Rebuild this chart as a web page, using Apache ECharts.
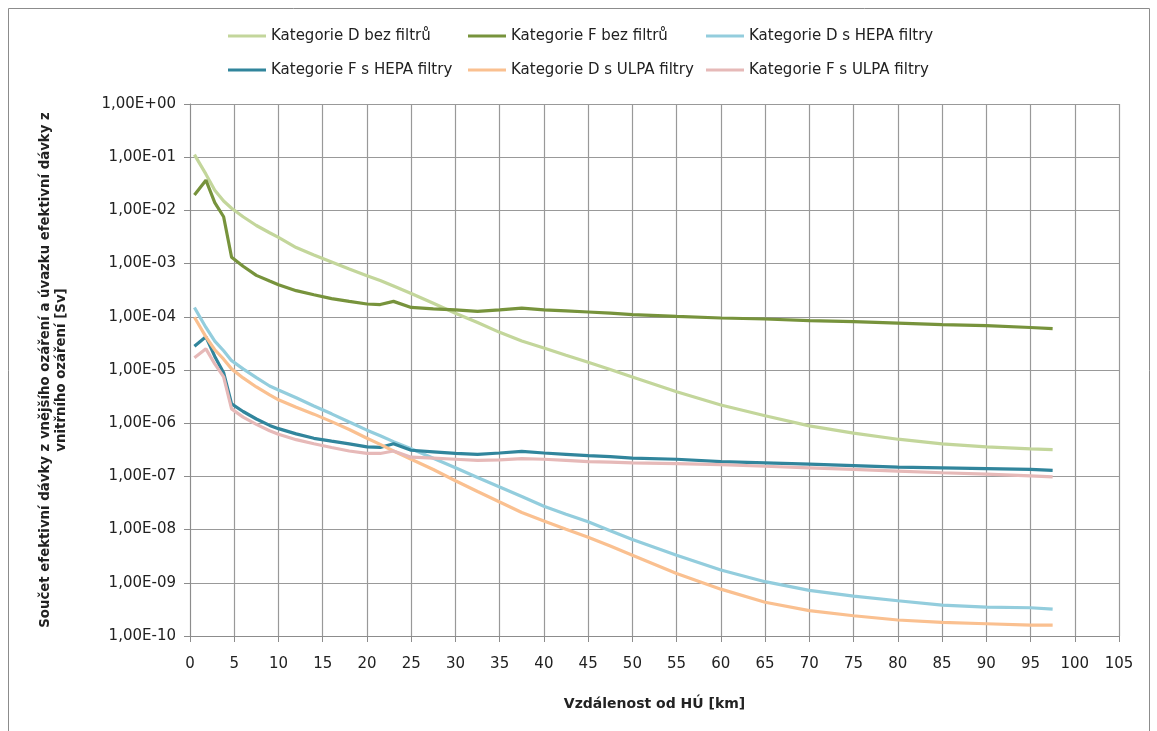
<!DOCTYPE html>
<html>
<head>
<meta charset="utf-8">
<script src="https://cdn.jsdelivr.net/npm/echarts@6/dist/echarts.min.js"></script>
<style>
html,body{margin:0;padding:0;background:#fff;}
#chart{width:1157px;height:731px;}
</style>
</head>
<body>
<div id="chart"></div>
<script>
// Distances from HÚ [km]
const distances = [0.5, 1.8, 2.8, 3.8, 4.7, 6, 7.5, 9, 10, 12, 14, 16, 18, 20, 21.5, 23, 25, 27.5, 30, 32.5, 35, 37.5, 40, 42.5, 45, 47.5, 50, 55, 60, 65, 70, 75, 80, 85, 90, 95, 97.5];

const seriesNames = [
  'Kategorie D bez filtrů',
  'Kategorie F bez filtrů',
  'Kategorie D s HEPA filtry',
  'Kategorie F s HEPA filtry',
  'Kategorie D s ULPA filtry',
  'Kategorie F s ULPA filtry'
];

const catD_bez = [1.12e-1, 4.8e-2, 2.4e-2, 1.5e-2, 1.1e-2, 7.6e-3, 5.2e-3, 3.8e-3, 3.1e-3, 2.0e-3, 1.45e-3, 1.07e-3, 7.9e-4, 5.9e-4, 4.8e-4, 3.8e-4, 2.75e-4, 1.8e-4, 1.17e-4, 7.8e-5, 5.1e-5, 3.5e-5, 2.6e-5, 1.9e-5, 1.4e-5, 1.02e-5, 7.4e-6, 3.9e-6, 2.2e-6, 1.38e-6, 8.9e-7, 6.5e-7, 5.0e-7, 4.1e-7, 3.6e-7, 3.3e-7, 3.2e-7];
const catF_bez = [1.95e-2, 3.7e-2, 1.4e-2, 7.6e-3, 1.32e-3, 8.9e-4, 6.0e-4, 4.7e-4, 4.0e-4, 3.1e-4, 2.6e-4, 2.2e-4, 1.95e-4, 1.74e-4, 1.7e-4, 1.95e-4, 1.5e-4, 1.41e-4, 1.35e-4, 1.26e-4, 1.35e-4, 1.45e-4, 1.35e-4, 1.29e-4, 1.23e-4, 1.17e-4, 1.1e-4, 1.02e-4, 9.5e-5, 9.1e-5, 8.5e-5, 8.1e-5, 7.6e-5, 7.1e-5, 6.8e-5, 6.3e-5, 6.0e-5];
const catD_HEPA = [1.5e-4, 6.3e-5, 3.5e-5, 2.3e-5, 1.5e-5, 1.05e-5, 7.2e-6, 5.0e-6, 4.2e-6, 3.0e-6, 2.1e-6, 1.5e-6, 1.05e-6, 7.4e-7, 5.8e-7, 4.5e-7, 3.3e-7, 2.2e-7, 1.45e-7, 9.5e-8, 6.3e-8, 4.2e-8, 2.75e-8, 1.95e-8, 1.4e-8, 9.5e-9, 6.5e-9, 3.3e-9, 1.74e-9, 1.05e-9, 7.2e-10, 5.6e-10, 4.6e-10, 3.8e-10, 3.5e-10, 3.4e-10, 3.2e-10];
const catF_HEPA = [2.8e-5, 4.2e-5, 1.8e-5, 8.9e-6, 2.3e-6, 1.66e-6, 1.2e-6, 9.1e-7, 7.9e-7, 6.3e-7, 5.2e-7, 4.6e-7, 4.1e-7, 3.6e-7, 3.5e-7, 4.1e-7, 3.1e-7, 2.9e-7, 2.7e-7, 2.6e-7, 2.75e-7, 2.95e-7, 2.75e-7, 2.6e-7, 2.45e-7, 2.35e-7, 2.2e-7, 2.1e-7, 1.9e-7, 1.8e-7, 1.7e-7, 1.6e-7, 1.5e-7, 1.45e-7, 1.4e-7, 1.35e-7, 1.3e-7];
const catD_ULPA = [9.8e-5, 4.2e-5, 2.4e-5, 1.6e-5, 1.05e-5, 7.1e-6, 4.8e-6, 3.4e-6, 2.75e-6, 2.0e-6, 1.48e-6, 1.07e-6, 7.6e-7, 5.2e-7, 4.0e-7, 3.0e-7, 2.1e-7, 1.35e-7, 8.3e-8, 5.2e-8, 3.3e-8, 2.1e-8, 1.45e-8, 1.02e-8, 7.2e-9, 4.9e-9, 3.3e-9, 1.5e-9, 7.6e-10, 4.3e-10, 3.0e-10, 2.4e-10, 2.0e-10, 1.8e-10, 1.7e-10, 1.6e-10, 1.6e-10];
const catF_ULPA = [1.7e-5, 2.5e-5, 1.3e-5, 7.4e-6, 1.86e-6, 1.3e-6, 9.5e-7, 7.2e-7, 6.2e-7, 4.9e-7, 4.1e-7, 3.5e-7, 3.0e-7, 2.7e-7, 2.7e-7, 3.0e-7, 2.3e-7, 2.2e-7, 2.1e-7, 2.0e-7, 2.05e-7, 2.15e-7, 2.1e-7, 2.0e-7, 1.9e-7, 1.85e-7, 1.8e-7, 1.74e-7, 1.66e-7, 1.55e-7, 1.45e-7, 1.35e-7, 1.26e-7, 1.17e-7, 1.1e-7, 1.02e-7, 9.8e-8];

const seriesValues = [catD_bez, catF_bez, catD_HEPA, catF_HEPA, catD_ULPA, catF_ULPA];
const seriesColors = ['#c3d69b', '#77933c', '#93cddd', '#31859c', '#fac090', '#e6b9b8'];

const xTitle = 'Vzdálenost od HÚ [km]';
const yTitle = 'Součet efektivní dávky z vnějšího ozáření a úvazku efektivní dávky z\nvnitřního ozáření [Sv]';

const FONT = 'DejaVu Sans';

function fmtExp(v) {
  const e = Math.round(Math.log10(v));
  const sign = e < 0 ? '-' : '+';
  const a = Math.abs(e);
  return '1,00E' + sign + (a < 10 ? '0' + a : '' + a);
}

const legendLefts = [228, 468, 706, 228, 468, 706];
const legendTops = [28.5, 28.5, 28.5, 62.5, 62.5, 62.5];

const legends = seriesNames.map((n, i) => ({
  data: [n],
  left: legendLefts[i],
  top: legendTops[i],
  padding: 0,
  icon: 'rect',
  itemWidth: 38,
  itemHeight: 3,
  itemGap: 0,
  textStyle: { fontFamily: FONT, fontSize: 15, color: '#222' },
  selectedMode: false
}));

const series = seriesNames.map((n, i) => ({
  name: n,
  type: 'line',
  showSymbol: false,
  symbol: 'none',
  smooth: false,
  color: seriesColors[i],
  lineStyle: { width: 3.2, color: seriesColors[i] },
  data: distances.map((d, j) => [d, seriesValues[i][j]]),
  z: 2 + i
}));

const chart = echarts.init(document.getElementById('chart'), null, { renderer: 'canvas' });
chart.setOption({
  animation: false,
  backgroundColor: '#ffffff',
  graphic: [{
    type: 'rect',
    shape: { x: 8.5, y: 8.5, width: 1141, height: 740 },
    style: { fill: 'none', stroke: '#8c8c8c', lineWidth: 1 },
    silent: true
  }],
  legend: legends,
  grid: { left: 190, right: 38, top: 104, bottom: 95 },
  xAxis: {
    type: 'value',
    min: 0, max: 105, interval: 5,
    name: xTitle,
    nameLocation: 'middle',
    nameGap: 61,
    nameTextStyle: { fontFamily: FONT, fontSize: 14, fontWeight: 'bold', color: '#222' },
    axisLine: { show: true, lineStyle: { color: '#8c8c8c', width: 1 } },
    axisTick: { show: true, length: 6, lineStyle: { color: '#8c8c8c' } },
    axisLabel: { margin: 21, fontFamily: FONT, fontSize: 15, color: '#222' },
    splitLine: { show: true, lineStyle: { color: '#999999', width: 1.2 } }
  },
  yAxis: {
    type: 'log',
    logBase: 10,
    min: 1e-10, max: 1,
    interval: 1,
    name: yTitle,
    nameLocation: 'middle',
    nameRotate: 90,
    nameGap: 120,
    nameTextStyle: { fontFamily: FONT, fontSize: 13.3, fontWeight: 'bold', color: '#222', lineHeight: 16 },
    axisLine: { show: true, lineStyle: { color: '#8c8c8c', width: 1 } },
    axisTick: { show: true, length: 6, lineStyle: { color: '#8c8c8c' } },
    minorTick: { show: false },
    axisLabel: { margin: 14, fontFamily: FONT, fontSize: 15, color: '#222', formatter: fmtExp },
    splitLine: { show: true, lineStyle: { color: '#999999', width: 1.2 } }
  },
  series: series
});
</script>
</body>
</html>
